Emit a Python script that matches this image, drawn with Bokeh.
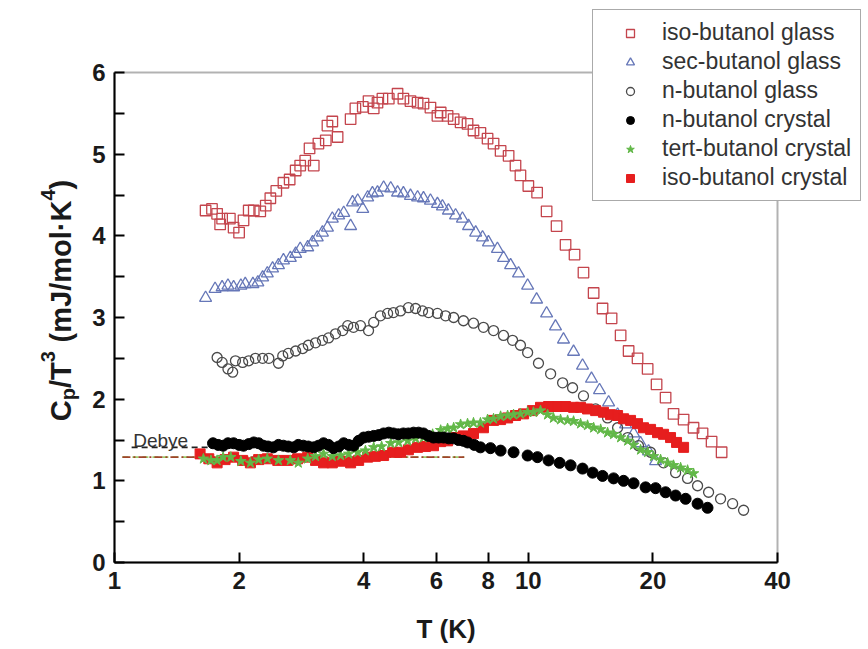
import numpy as np
from bokeh.plotting import figure
from bokeh.models import (Range1d, FixedTicker, BasicTickFormatter, Legend, LegendItem, Label, BoxAnnotation)
from bokeh.embed import file_html
from bokeh.resources import INLINE

# ---------------- data ----------------
iso_glass_T = [1.66,1.72,1.77,1.82,1.80,1.90,1.94,2.00,2.05,2.11,2.17,2.25,2.32,2.38,2.46,2.56,2.65,2.74,2.81,2.89,
               3.03,2.96,3.11,3.24,3.27,3.36,3.46,3.72,3.82,3.98,4.11,4.23,4.32,4.44,4.60,4.83,4.99,5.19,5.40,5.58,
               5.80,6.03,6.14,6.38,6.60,6.86,7.13,7.37,7.66,7.97,8.24,8.57,8.96,9.31,9.57,10.0,10.5,11.07,11.70,12.30,
               12.93,13.59,14.38,15.11,15.89,16.71,17.47,18.36,19.42,20.41,21.46,22.43,23.72,25.07,26.36,27.72,29.31]
iso_glass_C = [4.31,4.33,4.27,4.21,4.14,4.21,4.10,4.04,4.19,4.31,4.31,4.30,4.37,4.46,4.55,4.65,4.69,4.80,4.86,4.92,
               4.86,5.07,5.13,5.17,5.35,5.40,5.21,5.43,5.56,5.58,5.65,5.56,5.63,5.68,5.68,5.74,5.68,5.65,5.63,5.62,
               5.57,5.47,5.51,5.47,5.43,5.39,5.37,5.29,5.26,5.19,5.13,5.04,4.98,4.86,4.74,4.61,4.53,4.30,4.12,3.89,
               3.77,3.55,3.30,3.11,2.99,2.78,2.59,2.50,2.37,2.18,2.02,1.82,1.75,1.65,1.58,1.48,1.35]

sec_glass_T = [1.66,1.75,1.82,1.88,1.94,2.02,2.07,2.16,2.22,2.28,2.34,2.41,2.49,2.56,2.66,2.74,2.81,2.93,3.01,3.09,
               3.18,3.27,3.36,3.48,3.58,3.72,3.76,3.87,3.98,4.09,4.20,4.32,4.47,4.65,4.83,4.99,5.19,5.40,5.58,5.80,
               6.03,6.20,6.41,6.67,6.93,7.17,7.46,7.75,8.01,8.42,8.71,9.06,9.47,9.96,10.47,11.07,11.63,12.16,12.86,13.52,
               14.21,14.86,15.63,16.43,17.18,17.96,18.67,19.52,20.30]
sec_glass_C = [3.24,3.35,3.37,3.39,3.37,3.39,3.41,3.41,3.43,3.49,3.54,3.60,3.64,3.70,3.73,3.78,3.84,3.86,3.92,3.98,
               4.04,4.10,4.21,4.25,4.28,4.12,4.41,4.43,4.33,4.47,4.52,4.53,4.59,4.58,4.53,4.52,4.49,4.47,4.46,4.43,
               4.39,4.36,4.31,4.25,4.21,4.12,4.04,3.98,3.92,3.84,3.73,3.64,3.54,3.39,3.22,3.05,2.89,2.73,2.58,2.41,
               2.25,2.11,1.96,1.81,1.69,1.58,1.46,1.36,1.24]

n_glass_T = [1.77,1.82,1.88,1.93,1.96,2.04,2.11,2.19,2.28,2.36,2.49,2.55,2.63,2.74,2.85,2.94,3.06,3.18,3.29,3.42,
             3.56,3.66,3.78,3.93,4.11,4.23,4.39,4.57,4.72,4.91,5.13,5.34,5.55,5.74,6.03,6.31,6.60,6.97,7.37,7.79,
             8.24,8.71,9.16,9.57,9.96,10.58,11.32,12.10,12.79,13.59,14.54,15.54,16.43,17.38,18.46,19.74,21.22,22.69,24.25,25.64,
             27.26,29.14,31.16,33.12]
n_glass_C = [2.51,2.45,2.37,2.33,2.47,2.45,2.47,2.50,2.50,2.50,2.44,2.53,2.56,2.59,2.62,2.66,2.69,2.72,2.75,2.80,
             2.84,2.90,2.88,2.90,2.84,2.94,3.02,3.05,3.06,3.08,3.12,3.11,3.08,3.06,3.05,3.02,3.00,2.96,2.93,2.88,
             2.84,2.78,2.72,2.66,2.57,2.44,2.31,2.20,2.14,2.04,1.88,1.77,1.65,1.53,1.43,1.35,1.22,1.10,1.03,0.94,
             0.86,0.78,0.72,0.64]

n_cryst_T = [1.73,1.78,1.83,1.88,1.94,2.00,2.05,2.11,2.17,2.23,2.29,2.35,2.42,2.49,2.56,2.63,2.71,2.78,2.86,2.94,
             3.03,3.11,3.20,3.29,3.38,3.48,3.58,3.68,3.78,3.89,4.00,4.11,4.23,4.35,4.47,4.60,4.72,4.85,4.99,5.13,
             5.28,5.43,5.58,5.74,5.90,6.07,6.24,6.42,6.60,6.78,6.97,7.13,7.40,7.66,8.10,8.57,9.21,9.96,10.52,11.19,
             11.90,12.65,13.52,14.30,15.11,16.07,16.99,17.96,19.20,20.30,21.46,22.69,23.99,25.64,27.10]
n_cryst_C = [1.46,1.44,1.43,1.46,1.46,1.44,1.43,1.45,1.47,1.46,1.43,1.42,1.41,1.44,1.43,1.42,1.41,1.44,1.43,1.42,
             1.41,1.43,1.46,1.44,1.40,1.42,1.46,1.44,1.43,1.49,1.53,1.54,1.55,1.56,1.58,1.59,1.58,1.57,1.58,1.58,
             1.59,1.59,1.58,1.55,1.53,1.53,1.53,1.52,1.52,1.50,1.49,1.47,1.44,1.41,1.40,1.37,1.35,1.31,1.29,1.25,
             1.22,1.19,1.15,1.10,1.06,1.03,1.00,0.97,0.92,0.91,0.86,0.82,0.78,0.72,0.67]

tert_cryst_T = [1.64,1.71,1.77,1.83,1.91,2.02,2.13,2.23,2.34,2.49,2.66,2.78,2.93,3.06,3.20,3.36,3.52,3.68,3.87,4.04,
                4.23,4.42,4.65,4.86,5.11,5.34,5.58,5.87,6.14,6.38,6.60,6.86,7.13,7.37,7.66,7.97,8.24,8.57,8.91,9.21,
                9.57,9.96,10.29,10.70,11.13,11.50,11.96,12.44,12.86,13.37,13.90,14.38,14.95,15.54,16.07,16.71,17.38,17.96,18.67,19.42,
                20.07,20.87,21.70,22.43,23.33,24.25,25.07]
tert_cryst_C = [1.27,1.25,1.25,1.29,1.29,1.24,1.22,1.26,1.27,1.25,1.25,1.22,1.27,1.30,1.33,1.30,1.31,1.33,1.35,1.37,
                1.41,1.42,1.46,1.47,1.49,1.52,1.53,1.57,1.62,1.64,1.65,1.69,1.70,1.71,1.71,1.75,1.76,1.79,1.80,1.81,
                1.82,1.84,1.84,1.86,1.81,1.77,1.75,1.74,1.73,1.70,1.68,1.65,1.63,1.59,1.57,1.53,1.49,1.44,1.38,1.35,
                1.30,1.26,1.22,1.19,1.16,1.13,1.09]

iso_cryst_T = [1.61,1.69,1.77,1.85,1.94,2.04,2.13,2.23,2.34,2.48,2.62,2.77,2.93,3.06,3.20,3.36,3.52,3.72,3.89,4.09,
               4.27,4.47,4.70,4.91,5.13,5.40,5.64,5.90,6.14,6.38,6.67,6.97,7.37,7.79,8.24,8.57,8.91,9.31,9.74,10.23,
               10.70,11.19,11.77,12.30,12.86,13.37,13.90,14.54,15.19,15.80,16.43,16.99,17.66,18.36,18.98,19.74,20.52,21.22,22.06,22.81,
               23.72]
iso_cryst_C = [1.33,1.27,1.22,1.26,1.29,1.25,1.22,1.26,1.27,1.25,1.25,1.27,1.29,1.25,1.22,1.22,1.24,1.22,1.25,1.29,
               1.30,1.31,1.35,1.35,1.38,1.41,1.42,1.43,1.48,1.49,1.53,1.55,1.58,1.65,1.74,1.75,1.77,1.80,1.82,1.86,
               1.90,1.91,1.91,1.91,1.90,1.90,1.88,1.86,1.84,1.81,1.80,1.76,1.74,1.70,1.65,1.63,1.59,1.57,1.53,1.47,
               1.41]

# Debye levels (horizontal reference lines)
debye_n_T = [1.10, 2.0]
debye_n_C = [1.41, 1.41]
debye_iso_T = [1.045, 7.0]
debye_iso_C = [1.29, 1.29]

x_lim = (1, 40)
y_lim = (0, 6)
x_ticks = [1, 2, 4, 6, 8, 10, 20, 40]
y_ticks = [0, 1, 2, 3, 4, 5, 6]
y_minor = [0.5, 1.5, 2.5, 3.5, 4.5, 5.5]

# ---------------- layout (pixels) ----------------
W, H = 868, 649
BOX_L, BOX_R, BOX_T, BOX_B = 114, 777, 72, 562   # plotting box inside the canvas
dec_px = (BOX_R - BOX_L) / np.log10(x_lim[1] / x_lim[0])
unit_px = (BOX_B - BOX_T) / (y_lim[1] - y_lim[0])
x0 = x_lim[0] * 10 ** (-BOX_L / dec_px)
x1 = x_lim[0] * 10 ** ((W - BOX_L) / dec_px)
y0 = y_lim[0] - (H - BOX_B) / unit_px
y1 = y_lim[0] + BOX_B / unit_px

p = figure(width=W, height=H, x_axis_type="log",
           x_range=Range1d(x0, x1), y_range=Range1d(y0, y1),
           output_backend="svg", toolbar_location=None,
           min_border=0, min_border_left=0, min_border_right=0,
           min_border_top=0, min_border_bottom=0)
p.grid.visible = False
p.outline_line_color = None
p.background_fill_color = "white"
p.border_fill_color = "white"

FONT = "Liberation Sans"

p.xaxis.ticker = FixedTicker(ticks=x_ticks, minor_ticks=[])
p.xaxis.formatter = BasicTickFormatter()
p.yaxis.ticker = FixedTicker(ticks=y_ticks, minor_ticks=y_minor)
p.xaxis.fixed_location = y_lim[0]
p.yaxis.fixed_location = x_lim[0]
p.xaxis.bounds = x_lim
p.yaxis.bounds = y_lim
for ax in (p.xaxis[0], p.yaxis[0]):
    ax.axis_line_width = 2
    ax.axis_line_color = "black"
    ax.major_tick_in = 10
    ax.major_tick_out = 0
    ax.minor_tick_in = 10
    ax.minor_tick_out = 0
    ax.major_tick_line_width = 2
    ax.minor_tick_line_width = 2
    ax.major_label_text_font = FONT
    ax.major_label_text_font_style = "bold"
    ax.major_label_text_font_size = "24px"
    ax.major_label_text_color = "#1a1a1a"
p.xaxis.major_label_standoff = 9
p.yaxis.major_label_standoff = 9
p.xaxis.axis_label = "T (K)"
p.xaxis.axis_label_text_font = FONT
p.xaxis.axis_label_text_font_style = "bold"
p.xaxis.axis_label_text_font_size = "26px"
p.xaxis.axis_label_text_color = "#1a1a1a"
p.xaxis.axis_label_standoff = 22

# box around the plotting area
p.add_layout(BoxAnnotation(left=x_lim[0], right=x_lim[1], bottom=y_lim[0], top=y_lim[1],
                           fill_alpha=0, fill_color=None, line_color="black", line_width=2))

# Debye lines
p.line(debye_n_T, debye_n_C, line_color="#222222", line_width=1.8, line_dash="6 4")
p.line(debye_iso_T, debye_iso_C, line_color="#9acd6a", line_width=1.6, line_dash="6 4")
p.line(debye_iso_T, debye_iso_C, line_color="#a0442a", line_width=1.6, line_dash="8 3 2 3")

r_iso_g = p.scatter(iso_glass_T, iso_glass_C, marker="square", size=10.5, fill_color=None,
                    line_color="#c4454d", line_width=1.3)
r_sec_g = p.scatter(sec_glass_T, sec_glass_C, marker="triangle", size=12, fill_color=None,
                    line_color="#6677b8", line_width=1.3)
r_n_g = p.scatter(n_glass_T, n_glass_C, marker="circle", size=10, fill_color=None,
                  line_color="#4a4a4a", line_width=1.3)
r_iso_c = p.scatter(iso_cryst_T, iso_cryst_C, marker="square", size=10, fill_color="#e61e1e",
                    line_color="#e61e1e", line_width=1)
r_tert_c = p.scatter(tert_cryst_T, tert_cryst_C, marker="star", size=11, fill_color="#62b848",
                     line_color="#62b848", line_width=1)
r_n_c = p.scatter(n_cryst_T, n_cryst_C, marker="circle", size=11, fill_color="black",
                  line_color="black", line_width=1)

legend = Legend(items=[
    LegendItem(label="iso-butanol glass", renderers=[r_iso_g]),
    LegendItem(label="sec-butanol glass", renderers=[r_sec_g]),
    LegendItem(label="n-butanol glass", renderers=[r_n_g]),
    LegendItem(label="n-butanol crystal", renderers=[r_n_c]),
    LegendItem(label="tert-butanol crystal", renderers=[r_tert_c]),
    LegendItem(label="iso-butanol crystal", renderers=[r_iso_c]),
], location=(592, H - 201))
legend.label_text_font = FONT
legend.label_text_font_size = "23px"
legend.label_text_color = "#333333"
legend.border_line_color = "#555555"
legend.border_line_width = 1.5
legend.background_fill_color = "white"
legend.background_fill_alpha = 1.0
legend.padding = 9
legend.spacing = 2
legend.glyph_height = 20
legend.glyph_width = 56
legend.label_height = 20
legend.label_standoff = 4
legend.margin = 0
p.add_layout(legend)

# "Debye" annotation
p.add_layout(Label(x=1.11, y=1.5, text="Debye", text_font=FONT, text_font_size="19px",
                   text_color="#333333", text_baseline="middle"))

# Y axis title, composed of pieces (sub/superscripts), rotated
em = {"C": .722, "p": .611, "/": .278, "T": .611, "3": .556, " ": .278, "(": .333, "m": .889,
      "J": .556, "o": .611, "l": .278, "\u00b7": .333, "K": .722, ")": .333, "4": .556}
# (text, font size, baseline shift, gap before the piece in em of the main font)
pieces = [("C", 29, 0, 0), ("p", 20, 7, 0), ("/T", 29, 0, 0), ("3", 20, -13, 0),
          ("(mJ/mol\u00b7K", 29, 0, 0.30), ("4", 20, -13, 0), (")", 29, 0, 0)]
total = sum(sum(em[c] for c in t) * fs + g * 29 for t, fs, _, g in pieces)
base_x = 60 - BOX_L          # baseline of the rotated title, relative to the box's left edge
start = (BOX_B - 300) - total / 2   # title centred ~300 px from the top of the canvas
acc = 0.0
for t, fs, shift, gap in pieces:
    acc += gap * 29
    p.add_layout(Label(x=x_lim[0], y=y_lim[0], x_offset=base_x + shift, y_offset=start + acc, text=t,
                       angle=np.pi / 2, text_align="left", text_baseline="alphabetic",
                       text_font=FONT, text_font_style="bold", text_font_size=f"{fs}px",
                       text_color="#1a1a1a"))
    acc += sum(em[c] for c in t) * fs

open("out.html", "w").write(file_html(p, INLINE))
